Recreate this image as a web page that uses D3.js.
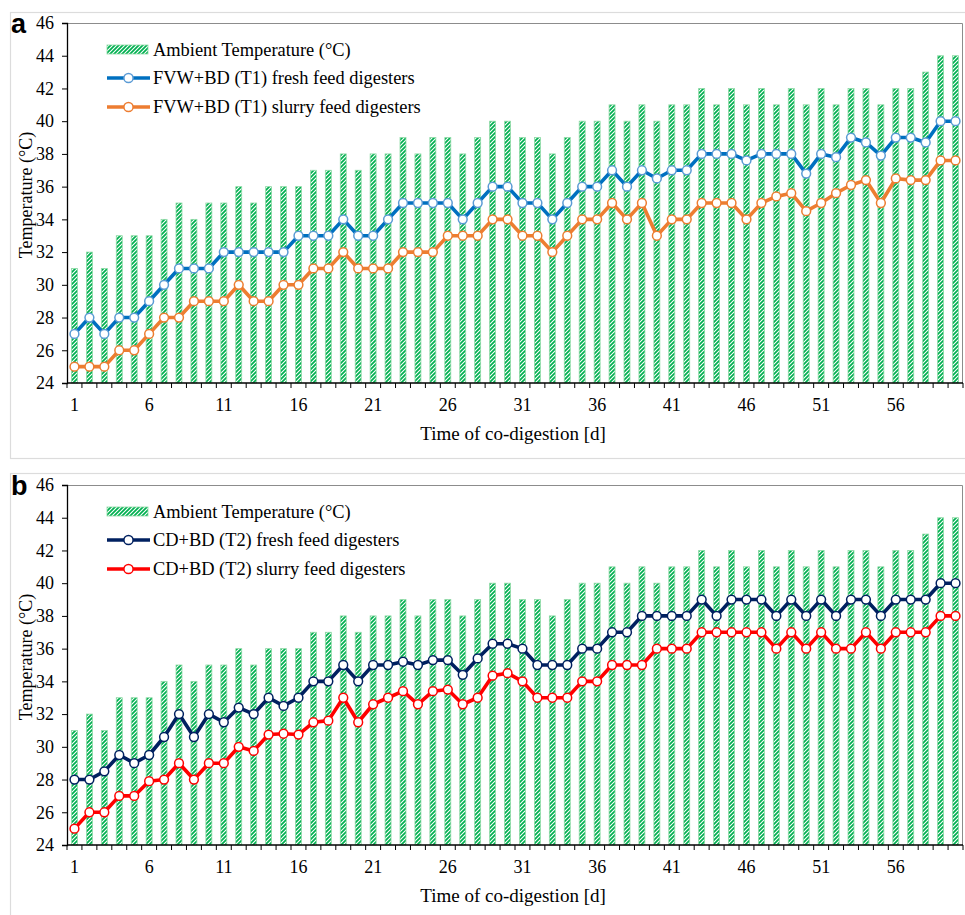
<!DOCTYPE html>
<html>
    <head>
        <title>codigestion_temperature</title>
        <script src="https://cdn.jsdelivr.net/npm/d3@7/dist/d3.min.js"></script>
        <style>
            body { margin: 0; background: #ffffff; }
            text { fill: #000; }
        </style>
    </head>
    <body>
    <svg width="965" height="915" id="mainsvg" style="background-color: #ffffff; display: block;"></svg>

    <script>
        // days of co-digestion
        const days = d3.range(1, 61);
        const dayLabels = [1, 6, 11, 16, 21, 26, 31, 36, 41, 46, 51, 56];
        const yTicks = [24, 26, 28, 30, 32, 34, 36, 38, 40, 42, 44, 46];

        // ambient temperature (same in both panels)
        const ambient = [31,32,31,33,33,33,34,35,34,35,
                         35,36,35,36,36,36,37,37,38,37,
                         38,38,39,38,39,39,38,39,40,40,
                         39,39,38,39,40,40,41,40,41,40,
                         41,41,42,41,42,41,42,41,42,41,
                         42,41,42,42,41,42,42,43,44,44];

        // panel a : FVW+BD (T1)
        const t1Fresh = [27,28,27,28,28,29,30,31,31,31,
                         32,32,32,32,32,33,33,33,34,33,
                         33,34,35,35,35,35,34,35,36,36,
                         35,35,34,35,36,36,37,36,37,36.5,
                         37,37,38,38,38,37.6,38,38,38,36.8,
                         38,37.8,39,38.7,37.9,39,39,38.7,40,40];
        const t1Slurry = [25,25,25,26,26,27,28,28,29,29,
                          29,30,29,29,30,30,31,31,32,31,
                          31,31,32,32,32,33,33,33,34,34,
                          33,33,32,33,34,34,35,34,35,33,
                          34,34,35,35,35,34,35,35.4,35.6,34.5,
                          35,35.6,36.1,36.4,35,36.5,36.4,36.4,37.6,37.6];

        // panel b : CD+BD (T2)
        const t2Fresh = [28,28,28.5,29.5,29,29.5,30.6,32,30.6,32,
                         31.5,32.4,32,33,32.5,33,34,34,35,34,
                         35,35,35.2,35,35.3,35.3,34.4,35.4,36.3,36.3,
                         36,35,35,35,36,36,37,37,38,38,
                         38,38,39,38,39,39,39,38,39,38,
                         39,38,39,39,38,39,39,39,40,40];
        const t2Slurry = [25,26,26,27,27,27.9,28,29,28,29,
                          29,30,29.75,30.75,30.8,30.75,31.5,31.6,33,31.5,
                          32.6,33,33.4,32.6,33.4,33.5,32.6,33,34.35,34.5,
                          34,33,33,33,34,34,35,35,35,36,
                          36,36,37,37,37,37,37,36,37,36,
                          37,36,36,37,36,37,37,37,38,38];

        const serif = '"Liberation Serif", "Times New Roman", serif';
        const sans = '"Liberation Sans", Arial, sans-serif';

        const svg = d3.select('#mainsvg');
        const margin = {left: 67, right: 2};
        const plotW = 965 - margin.left - margin.right;
        const plotH = 360;

        // hatch pattern for the ambient bars
        const defs = svg.append('defs');
        const pat = defs.append('pattern')
            .attr('id', 'hatch')
            .attr('patternUnits', 'userSpaceOnUse')
            .attr('width', 4).attr('height', 4);
        pat.append('rect').attr('width', 4).attr('height', 4).attr('fill', '#00b050');
        pat.append('path')
            .attr('d', 'M-1,1 l2,-2 M0,4 l4,-4 M3,5 l2,-2')
            .attr('stroke', '#ffffff').attr('stroke-width', 1.1);

        const xScale = d3.scaleBand().domain(days).range([0, plotW]).padding(0);
        const yScale = d3.scaleLinear().domain([24, 46]).range([plotH, 0]);

        const panels = [
            {tag: 'a', frameTop: 12, top: 23,
             series: [
                {name: 'FVW+BD (T1) fresh feed digesters', values: t1Fresh, line: '#0070c0', mark: '#5b9bd5'},
                {name: 'FVW+BD (T1) slurry feed digesters', values: t1Slurry, line: '#ed7d31', mark: '#ed7d31'}
             ]},
            {tag: 'b', frameTop: 473, top: 485,
             series: [
                {name: 'CD+BD (T2) fresh feed digesters', values: t2Fresh, line: '#002060', mark: '#002060'},
                {name: 'CD+BD (T2) slurry feed digesters', values: t2Slurry, line: '#ff0000', mark: '#ff0000'}
             ]}
        ];

        const renderPanel = function(p){
            // light frame round the panel
            svg.append('rect')
                .attr('x', 10.5).attr('y', p.frameTop + 0.5)
                .attr('width', 960).attr('height', 446)
                .attr('fill', 'none').attr('stroke', '#dcdcdc').attr('stroke-width', 1.2);

            const g = svg.append('g').attr('transform', `translate(${margin.left},${p.top})`);

            // top and right border of plot area
            g.append('path')
                .attr('d', `M0,0.5 H${plotW - 0.5} V${plotH}`)
                .attr('fill', 'none').attr('stroke', '#8c8c8c').attr('stroke-width', 1);

            // ambient bars
            const bw = xScale.bandwidth() * 0.4;
            g.selectAll('.bar').data(ambient).join('rect')
                .attr('class', 'bar')
                .attr('x', (d, i) => xScale(days[i]) + (xScale.bandwidth() - bw) / 2)
                .attr('y', d => yScale(d))
                .attr('width', bw)
                .attr('height', d => yScale(24) - yScale(d))
                .attr('fill', 'url(#hatch)')
                .attr('stroke', '#8fdaa6').attr('stroke-width', 0.8);

            // lines with markers
            const cx = i => xScale(days[i]) + xScale.bandwidth() / 2;
            const lineGen = d3.line().x((d, i) => cx(i)).y(d => yScale(d));
            p.series.forEach(s => {
                g.append('path').datum(s.values)
                    .attr('d', lineGen)
                    .attr('fill', 'none')
                    .attr('stroke', s.line).attr('stroke-width', 3.6)
                    .attr('stroke-linejoin', 'round');
                g.append('g').selectAll('circle').data(s.values).join('circle')
                    .attr('cx', (d, i) => cx(i))
                    .attr('cy', d => yScale(d))
                    .attr('r', 4.4)
                    .attr('fill', '#ffffff')
                    .attr('stroke', s.mark).attr('stroke-width', 1.5);
            });

            // y axis
            const yAxis = d3.axisLeft(yScale).tickValues(yTicks).tickSize(5).tickPadding(8);
            const yg = g.append('g').call(yAxis);
            yg.select('.domain').attr('stroke', '#000').attr('stroke-width', 1.3);
            yg.selectAll('.tick line').attr('stroke', '#000');
            yg.selectAll('text').attr('font-size', 18).style('font-family', serif);

            // x axis: tick marks at each day boundary
            const xg = g.append('g').attr('transform', `translate(0,${plotH})`);
            xg.append('line').attr('x1', 0).attr('x2', plotW)
                .attr('stroke', '#000').attr('stroke-width', 1.3);
            xg.selectAll('.xt').data(days.concat([61])).join('line')
                .attr('class', 'xt')
                .attr('x1', d => d <= 60 ? xScale(d) : plotW)
                .attr('x2', d => d <= 60 ? xScale(d) : plotW)
                .attr('y1', 0).attr('y2', 5)
                .attr('stroke', '#000').attr('stroke-width', 1);
            xg.selectAll('.xl').data(dayLabels).join('text')
                .attr('class', 'xl')
                .attr('x', d => xScale(d) + xScale.bandwidth() / 2)
                .attr('y', 28)
                .attr('text-anchor', 'middle')
                .attr('font-size', 18)
                .style('font-family', serif)
                .text(d => d);

            // axis titles
            g.append('text')
                .attr('x', 446).attr('y', plotH + 57)
                .attr('text-anchor', 'middle')
                .attr('font-size', 19)
                .style('font-family', serif)
                .text('Time of co-digestion [d]');
            g.append('text')
                .attr('transform', 'rotate(-90)')
                .attr('x', -172).attr('y', -35)
                .attr('text-anchor', 'middle')
                .attr('font-size', 18)
                .style('font-family', serif)
                .text('Temperature (°C)');

            // legend
            const lg = g.append('g').attr('transform', 'translate(40,0)');
            lg.append('rect')
                .attr('x', 0).attr('y', 22).attr('width', 41).attr('height', 9)
                .attr('fill', 'url(#hatch)').attr('stroke', '#8fdaa6').attr('stroke-width', 0.8);
            lg.append('text').attr('x', 46).attr('y', 27).attr('dy', '0.35em')
                .attr('font-size', 18.4).style('font-family', serif)
                .text('Ambient Temperature (°C)');
            p.series.forEach((s, k) => {
                const yy = 55 + k * 29;
                lg.append('line').attr('x1', 0).attr('x2', 43).attr('y1', yy).attr('y2', yy)
                    .attr('stroke', s.line).attr('stroke-width', 3.6);
                lg.append('circle').attr('cx', 21.5).attr('cy', yy).attr('r', 4.6)
                    .attr('fill', '#fff').attr('stroke', s.mark).attr('stroke-width', 1.5);
                lg.append('text').attr('x', 46).attr('y', yy).attr('dy', '0.35em')
                    .attr('font-size', 18.4).style('font-family', serif)
                    .text(s.name);
            });

            // panel letter
            svg.append('text')
                .attr('x', 11).attr('y', p.top + 10)
                .attr('font-weight', 'bold')
                .attr('font-size', 27)
                .style('font-family', sans)
                .text(p.tag);
        };

        panels.forEach(renderPanel);
    </script>
    </body>
</html>
